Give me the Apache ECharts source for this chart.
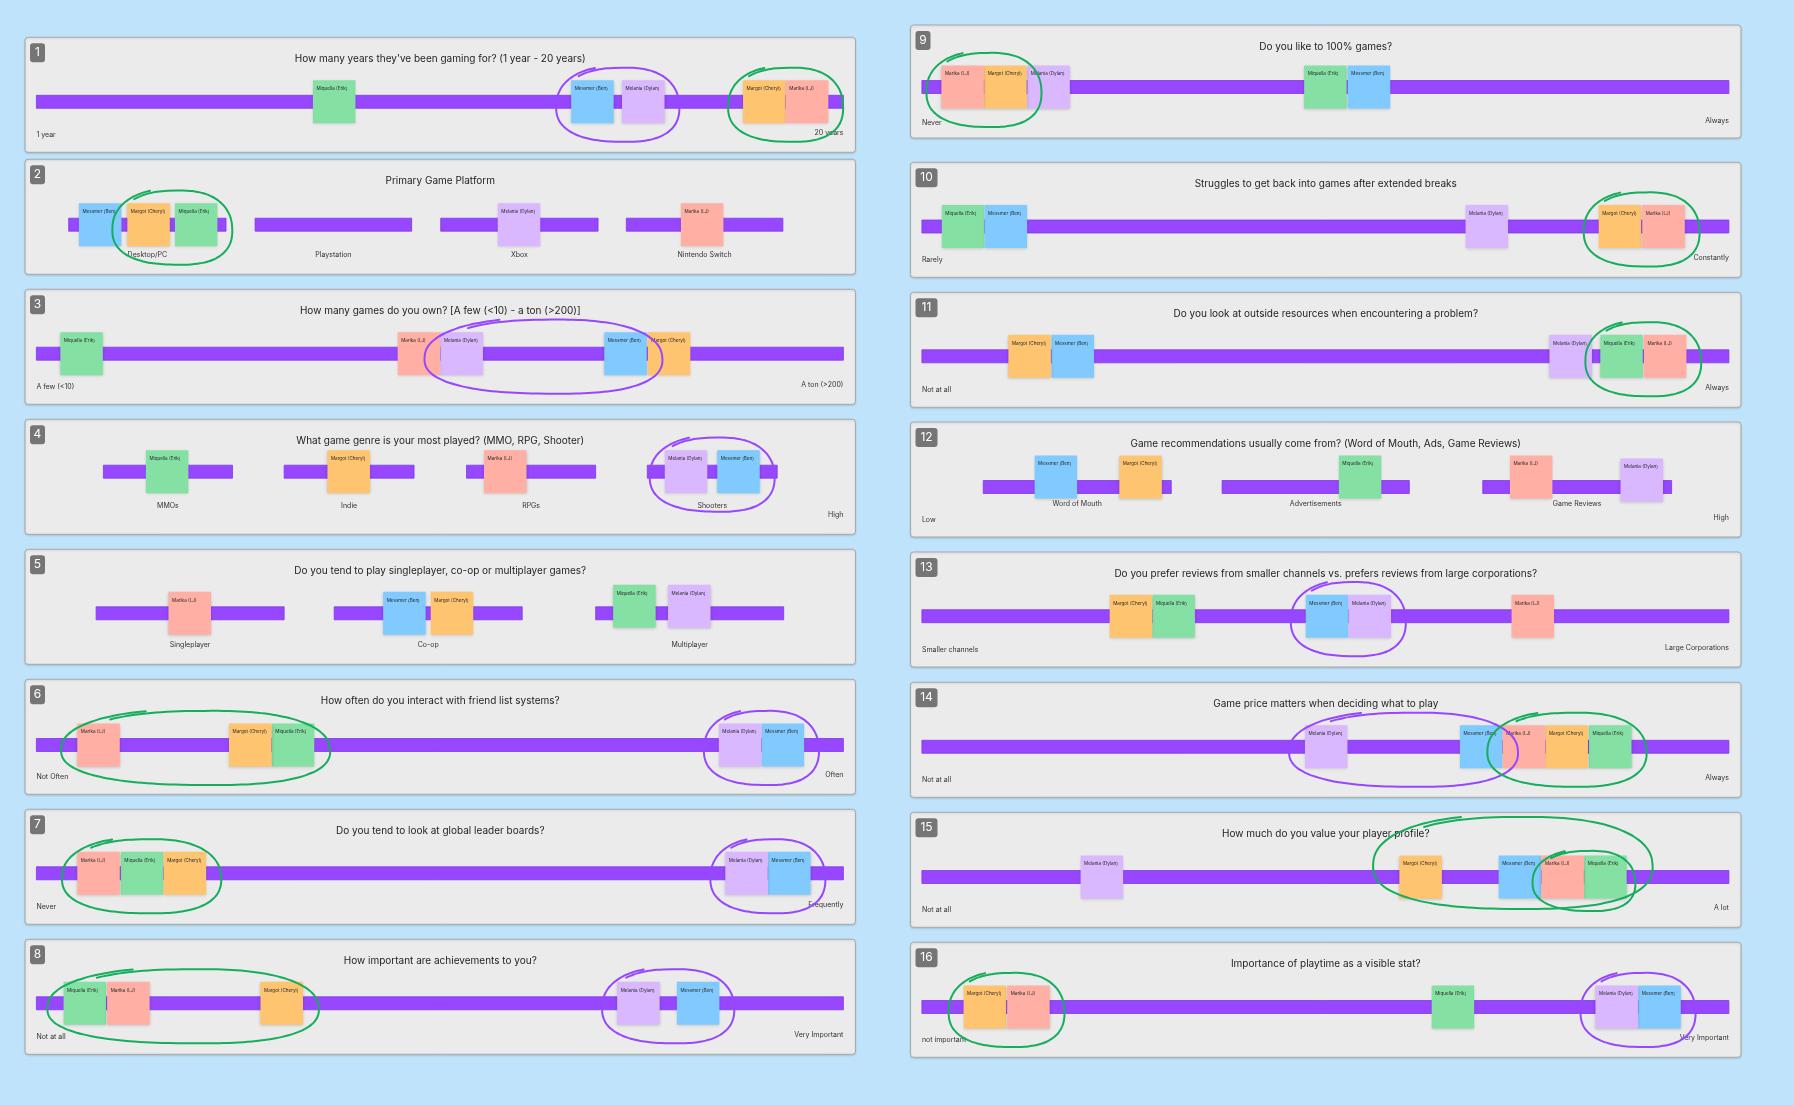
<!DOCTYPE html>
<html><head><meta charset="utf-8">
<script src="https://cdn.jsdelivr.net/npm/echarts/dist/echarts.min.js"></script>
<style>html,body{margin:0;padding:0;background:#bee3fb;}#c{width:1794px;height:1105px;}</style>
</head><body><div id="c"></div>
<script>
// ---------------- DATA ----------------
const titles = [
  "How many years they've been gaming for? (1 year - 20 years)",
  "Primary Game Platform",
  "How many games do you own? [A few (<10) - a ton (>200)]",
  "What game genre is your most played? (MMO, RPG, Shooter)",
  "Do you tend to play singleplayer, co-op or multiplayer games?",
  "How often do you interact with friend list systems?",
  "Do you tend to look at global leader boards?",
  "How important are achievements to you?",
  "Do you like to 100% games?",
  "Struggles to get back into games after extended breaks",
  "Do you look at outside resources when encountering a problem?",
  "Game recommendations usually come from? (Word of Mouth, Ads, Game Reviews)",
  "Do you prefer reviews from smaller channels vs. prefers reviews from large corporations?",
  "Game price matters when deciding what to play",
  "How much do you value your player profile?",
  "Importance of playtime as a visible stat?"
];
const leftEndLabels = ["1 year","","A few (<10)","","","Not Often","Never","Not at all",
  "Never","Rarely","Not at all","Low","Smaller channels","Not at all","Not at all","not important"];
const rightEndLabels = ["20 years","","A ton (>200)","High","","Often","Frequently","Very Important",
  "Always","Constantly","Always","High","Large Corporations","Always","A lot","Very Important"];

const people = ["Miquella (Erik)","Messmer (Ben)","Melania (Dylan)","Margot (Cheryl)","Marika (LJ)"];

// position of each person's note on the 0-100 scale, order: Miquella, Messmer, Melania, Margot, Marika
const notePositions = [
  [36.9, 68.9, 75.2, 90.2, 95.5],
  [19.8, 7.9, 59.8, 13.9, 82.5],
  [5.6, 73.0, 52.7, 78.4, 47.4],
  [16.2, 87.0, 80.5, 38.7, 58.1],
  [74.1, 45.6, 80.9, 51.5, 19.0],
  [31.8, 92.5, 87.2, 26.5, 7.7],
  [13.1, 93.3, 88.0, 18.4, 7.7],
  [6.0, 82.0, 74.6, 30.4, 11.4],
  [50.0, 55.4, 15.7, 10.35, 5.05],
  [5.1, 10.4, 70.0, 86.5, 91.9],
  [86.7, 18.7, 80.4, 13.35, 92.1],
  [54.3, 16.6, 89.2, 27.1, 75.5],
  [31.2, 50.2, 55.5, 25.9, 75.7],
  [85.3, 69.3, 50.1, 79.9, 74.6],
  [84.7, 74.1, 22.3, 61.8, 79.4],
  [65.8, 91.4, 86.1, 7.8, 13.2]
];

// scale segments (0-100) per panel
const FULL = [[0, 100]];
const segmentRanges = [
  FULL,
  [[4.0, 23.5], [27.1, 46.5], [50.1, 69.6], [73.1, 92.5]],
  FULL,
  [[8.3, 24.3], [30.7, 46.8], [53.3, 69.3], [75.7, 91.8]],
  [[7.4, 30.7], [36.9, 60.2], [69.3, 92.6]],
  FULL, FULL, FULL, FULL, FULL, FULL,
  [[7.6, 30.9], [37.2, 60.4], [69.5, 92.9]],
  FULL, FULL, FULL, FULL
];
const categoryLabels = [
  [], ["Desktop/PC","Playstation","Xbox","Nintendo Switch"], [],
  ["MMOs","Indie","RPGs","Shooters"], ["Singleplayer","Co-op","Multiplayer"],
  [], [], [], [], [], [], ["Word of Mouth","Advertisements","Game Reviews"], [], [], [], []
];

// hand-drawn circles: [panel number, member person indices, colour key]
const circleGroups = [
  [1, [1, 2], "p"], [1, [3, 4], "g"],
  [2, [3, 0], "g"],
  [3, [2, 1], "p"],
  [4, [2, 1], "p"],
  [6, [4, 3, 0], "g"], [6, [2, 1], "p"],
  [7, [4, 0, 3], "g"], [7, [2, 1], "p"],
  [8, [0, 4, 3], "g"], [8, [2, 1], "p"],
  [9, [4, 3], "g"],
  [10, [3, 4], "g"],
  [11, [0, 4], "g"],
  [13, [1, 2], "p"],
  [14, [2, 1], "p"], [14, [4, 3, 0], "g"],
  [15, [3, 4, 0], "g"], [15, [4, 0], "g"],
  [16, [3, 4], "g"], [16, [2, 1], "p"]
];

// ---------------- LAYOUT / STYLE ----------------
const personColors = ["#85e0a3", "#80caff", "#d9b8ff", "#ffc470", "#ffafa3"];
const loopColors = { p: "#9747ff", g: "#14ae5c" };
const FONT = 'Inter, "Noto Sans", sans-serif';
const LEFT_X = 25, RIGHT_X = 910.5, PANEL_W = 830.5;
const BAR_INSET = 11.4, BAR_W = 807, BAR_H = 13;
const NOTE_W = 42.5, NOTE_H = 43;
const panelTops = [37.3,159.3,289.3,419.3,549.3,679.3,809.3,939.3, 25,162.3,292.3,422,552,682.3,812.3,942.3];
const barOffsets = [64.5,65.4,64.4,52.4,64,65.7,64,64, 62,64.2,64,65,64.2,64.5,64.7,64.7];
const catLabelOffsets = {1: 95.7, 3: 86.4, 4: 95.7, 11: 81.7};
const noteShift = {"4-0": -7, "4-2": -7, "11-0": -10, "11-1": -10, "11-3": -10, "11-4": -10, "11-2": -7};
const loopOverride = {17: {pad: 24, ry: 46, dy: -14}, 18: {pad: 8, ry: 30, dy: 4}};

const panelX = i => (i < 8 ? LEFT_X : RIGHT_X);
const panelH = i => (i === 8 ? 113 : 115);

const chart = echarts.init(document.getElementById('c'));
const grids = [], xAxes = [], yAxes = [], series = [], graphics = [];

function sp(v, e) { return Math.sign(v) * Math.pow(Math.abs(v), e); }
function loopPoints(cx, cy, rx, ry) {
  const pts = [];
  const a0 = -2.2, sweep = Math.PI * 2 + 0.35, n = 90;
  for (let k = 0; k <= n; k++) {
    const t = k / n, a = a0 + sweep * t;
    const f = 0.98 + 0.06 * t + 0.02 * Math.sin(3 * a + 0.7);
    pts.push([cx + rx * f * sp(Math.cos(a), 0.8), cy + ry * f * sp(Math.sin(a), 0.85) + 2 * Math.sin(a * 2)]);
  }
  return pts;
}

for (let i = 0; i < 16; i++) {
  const px = panelX(i), top = panelTops[i], h = panelH(i);
  const barCY = top + barOffsets[i];
  // panel card
  graphics.push({type: 'rect', shape: {x: px, y: top, width: PANEL_W, height: h, r: 3},
    style: {fill: '#ebebeb', stroke: '#a9a9a9', lineWidth: 1, shadowBlur: 2, shadowColor: 'rgba(0,0,0,0.12)', shadowOffsetY: 1}});
  const num = String(i + 1);
  const bw = num.length > 1 ? 22 : 15;
  graphics.push({type: 'rect', shape: {x: px + 5, y: top + 6, width: bw, height: 19, r: 3}, style: {fill: '#757575'}});
  graphics.push({type: 'text', x: px + 5 + bw / 2, y: top + 15.5,
    style: {text: num, fill: '#ffffff', font: '12px ' + FONT, textAlign: 'center', textVerticalAlign: 'middle'}});
  graphics.push({type: 'text', x: px + PANEL_W / 2, y: top + 21.5,
    style: {text: titles[i], fill: '#1e1e1e', font: '10px ' + FONT, textAlign: 'center', textVerticalAlign: 'middle'}});

  grids.push({left: px + BAR_INSET, top: barCY - 40, width: BAR_W, height: 80});
  xAxes.push({type: 'value', gridIndex: i, min: 0, max: 100, show: false});
  yAxes.push({type: 'value', gridIndex: i, min: -1, max: 1, show: false});

  // purple scale bars
  series.push({type: 'custom', xAxisIndex: i, yAxisIndex: i, silent: true, z: 2,
    data: segmentRanges[i].map(s => [s[0], s[1]]),
    renderItem: (params, api) => {
      const p0 = api.coord([api.value(0), 0]), p1 = api.coord([api.value(1), 0]);
      return {type: 'rect', shape: {x: p0[0], y: p0[1] - BAR_H / 2, width: p1[0] - p0[0], height: BAR_H},
        style: {fill: '#9747ff', stroke: '#8038e6', lineWidth: 0.8}};
    }});

  // sticky notes
  series.push({type: 'custom', xAxisIndex: i, yAxisIndex: i, silent: true, z: 3,
    data: notePositions[i].map((v, p) => [v, p]),
    renderItem: (params, api) => {
      const p = api.value(1);
      const c = api.coord([api.value(0), 0]);
      const dy = noteShift[i + '-' + p] || 0;
      const x0 = c[0] - NOTE_W / 2, y0 = c[1] - NOTE_H / 2 + dy;
      return {type: 'group', children: [
        {type: 'rect', shape: {x: x0, y: y0, width: NOTE_W, height: NOTE_H},
          style: {fill: personColors[p], shadowBlur: 3, shadowColor: 'rgba(0,0,0,0.18)', shadowOffsetY: 1}},
        {type: 'text', x: x0 + 3.5, y: y0 + 6,
          style: {text: people[p], fill: '#2a2a2a', font: '4.6px ' + FONT, textVerticalAlign: 'top'}}
      ]};
    }});

  // category labels
  if (categoryLabels[i].length) {
    series.push({type: 'custom', xAxisIndex: i, yAxisIndex: i, silent: true, z: 4,
      data: segmentRanges[i].map((s, k) => [(s[0] + s[1]) / 2, k]),
      renderItem: (params, api) => {
        const c = api.coord([api.value(0), 0]);
        return {type: 'text', x: c[0], y: top + catLabelOffsets[i],
          style: {text: categoryLabels[i][api.value(1)], fill: '#333333', font: '7px ' + FONT,
            textAlign: 'center', textVerticalAlign: 'middle'}};
      }});
  }
  // end labels
  series.push({type: 'custom', xAxisIndex: i, yAxisIndex: i, silent: true, z: 4,
    data: [[0, 0], [100, 1]],
    renderItem: (params, api) => {
      const c = api.coord([api.value(0), 0]);
      const right = api.value(1) === 1;
      return {type: 'text', x: c[0], y: top + (right ? 95.7 : 98),
        style: {text: right ? rightEndLabels[i] : leftEndLabels[i], fill: '#333333', font: '7px ' + FONT,
          textAlign: right ? 'right' : 'left', textVerticalAlign: 'middle'}};
    }});

  // hand-drawn circles
  const groupsHere = [];
  circleGroups.forEach((g, gi) => {
    if (g[0] === i + 1) {
      const vals = g[1].map(p => notePositions[i][p]);
      groupsHere.push([Math.min(...vals), Math.max(...vals), gi]);
    }
  });
  if (groupsHere.length) {
    series.push({type: 'custom', xAxisIndex: i, yAxisIndex: i, silent: true, z: 5,
      data: groupsHere,
      renderItem: (params, api) => {
        const gi = api.value(2);
        const o = loopOverride[gi] || {};
        const pad = o.pad !== undefined ? o.pad : 14;
        const ry = o.ry || 37, dy = o.dy !== undefined ? o.dy : 3;
        const a = api.coord([api.value(0), 0]), b = api.coord([api.value(1), 0]);
        const cx = (a[0] + b[0]) / 2, cy = a[1] + dy;
        const rx = (b[0] - a[0]) / 2 + NOTE_W / 2 + pad;
        return {type: 'polyline', shape: {points: loopPoints(cx, cy, rx, ry), smooth: 0.2},
          style: {stroke: loopColors[circleGroups[gi][2]], lineWidth: 2, fill: null, lineCap: 'round', lineJoin: 'round'}};
      }});
  }
}

chart.setOption({
  backgroundColor: '#bee3fb',
  animation: false,
  graphic: {elements: graphics},
  grid: grids, xAxis: xAxes, yAxis: yAxes,
  series: series
});
</script></body></html>
